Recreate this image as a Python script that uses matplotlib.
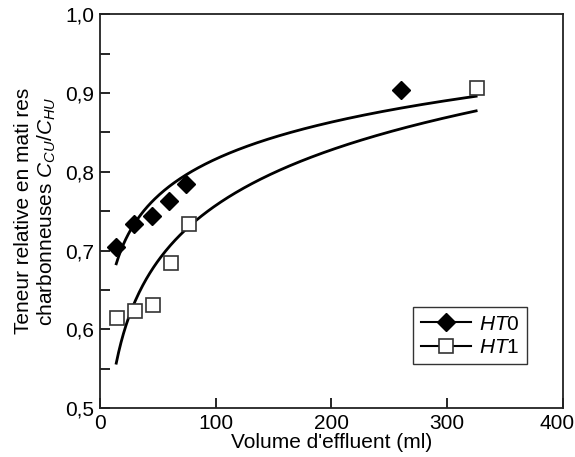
import numpy as np
import matplotlib
matplotlib.use("Agg")
import matplotlib.pyplot as plt
from matplotlib.ticker import MultipleLocator, FuncFormatter
from matplotlib.transforms import ScaledTranslation

plt.rcParams['font.family'] = ['Liberation Sans', 'DejaVu Sans']
plt.rcParams['mathtext.fontset'] = 'custom'
plt.rcParams['mathtext.rm'] = 'Liberation Sans'
plt.rcParams['mathtext.it'] = 'Liberation Sans:italic'

# HT0 (filled diamonds)
ht0_x = [13.5, 29.4, 44.6, 60.0, 74.3, 260.0]
ht0_y = [0.705, 0.734, 0.744, 0.763, 0.784, 0.904]

# HT1 (open squares)
ht1_x = [15.0, 30.0, 46.0, 61.0, 77.0, 326.0]
ht1_y = [0.614, 0.623, 0.631, 0.684, 0.734, 0.906]

x_ticks = [0, 100, 200, 300, 400]

# range of the fitted (logarithmic) curves
fit_start, fit_end = 14, 325

fig = plt.figure(figsize=(5.75, 4.57), dpi=100)
ax = fig.add_axes([0.174, 0.107, 0.805, 0.862])

# log fits y = a + b ln(x)
xs = np.linspace(fit_start, fit_end, 300)
b0, a0 = np.polyfit(np.log(ht0_x), ht0_y, 1)
b1, a1 = np.polyfit(np.log(ht1_x), ht1_y, 1)
ax.plot(xs, a0 + b0 * np.log(xs), color='black', lw=2, zorder=2)
ax.plot(xs, a1 + b1 * np.log(xs), color='black', lw=2, zorder=2)

ax.plot(ht0_x, ht0_y, ls='none', marker='D', ms=9, color='black', zorder=3)
ax.plot(ht1_x, ht1_y, ls='none', marker='s', ms=9.5, mfc='white', mec='#333333',
        mew=1.2, zorder=3)

# legend handles: line with marker
h0, = ax.plot([], [], color='black', lw=1.5, marker='D', ms=9)
h1, = ax.plot([], [], color='black', lw=1.5, marker='s', ms=9.5, mfc='white',
              mec='#333333', mew=1.2)
leg = ax.legend([h0, h1], ['$HT$0', '$HT$1'], loc='lower right',
                bbox_to_anchor=(0.945, 0.085), fontsize=15, frameon=True,
                fancybox=False, edgecolor='black', handlelength=2.4,
                borderpad=0.35, labelspacing=0.2, handletextpad=0.4)
leg.get_frame().set_linewidth(1.0)

ax.set_xlim(0, 400)
ax.set_ylim(0.5, 1.0)
ax.set_xticks(x_ticks)
ax.yaxis.set_major_locator(MultipleLocator(0.1))
ax.yaxis.set_minor_locator(MultipleLocator(0.05))
ax.yaxis.set_major_formatter(FuncFormatter(lambda v, p: f"{v:.1f}".replace('.', ',')))

ax.tick_params(direction='in', length=7, width=1.2, labelsize=15, colors='black', pad=4)
ax.tick_params(which='minor', direction='in', length=7, width=1.2)
for s in ax.spines.values():
    s.set_linewidth(1.3)
    s.set_color('#222222')

ax.set_xlabel("Volume d'effluent (ml)", fontsize=15, labelpad=0)
ax.set_ylabel("Teneur relative en mati res\ncharbonneuses $C_{CU}/C_{HU}$",
              fontsize=15)
ax.yaxis.set_label_coords(-0.09, 0.5)

# nudge the last x tick label so it stays inside the figure
fig.canvas.draw()
last = ax.get_xticklabels()[-1]
last.set_transform(last.get_transform() + ScaledTranslation(-6 / 100, 0, fig.dpi_scale_trans))

fig.savefig("out.png", dpi=100)
